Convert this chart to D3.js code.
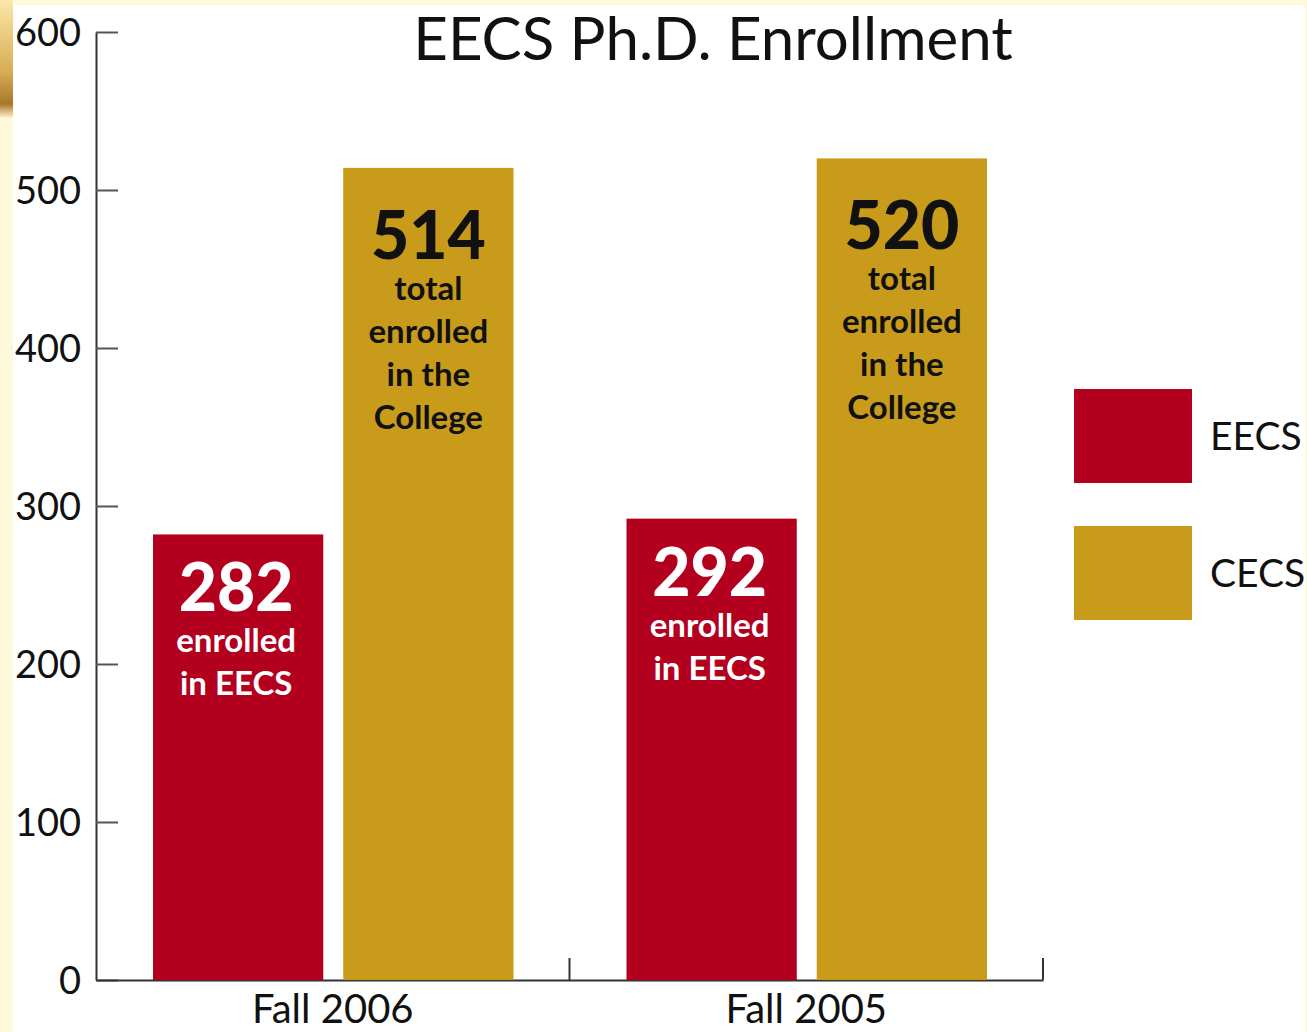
<!DOCTYPE html>
<html><head><meta charset="utf-8">
<script src="https://cdn.jsdelivr.net/npm/d3@7/dist/d3.min.js"></script>
<style>
html,body{margin:0;padding:0;background:#FFF9DC;}
svg{display:block;}
</style></head>
<body>
<svg id="chart" width="1307" height="1032"></svg>
<script>
const title = "EECS Ph.D. Enrollment";
const groups = ["Fall 2006", "Fall 2005"];
const series = ["EECS", "CECS"];
const eecsValues = [282, 292];
const cecsValues = [514, 520];
const eecsCaption = ["enrolled", "in EECS"];
const cecsCaption = ["total", "enrolled", "in the", "College"];
const yTicks = [0, 100, 200, 300, 400, 500, 600];
const colors = {EECS: "#B3001E", CECS: "#C89B1B"};

const svg = d3.select("#chart");
const FONT = "Lato, 'Open Sans', sans-serif";

// background
const defs = svg.append("defs");
const g1 = defs.append("linearGradient").attr("id","corner").attr("x1",0).attr("y1",0).attr("x2",0).attr("y2",1);
g1.append("stop").attr("offset","0%").attr("stop-color","#FBE7A8");
g1.append("stop").attr("offset","60%").attr("stop-color","#D9AE55");
g1.append("stop").attr("offset","88%").attr("stop-color","#A8772A");
g1.append("stop").attr("offset","100%").attr("stop-color","#FFF3CF");
svg.append("rect").attr("x",0).attr("y",0).attr("width",13).attr("height",118).attr("fill","url(#corner)");
svg.append("rect").attr("x",13).attr("y",5).attr("width",1292).attr("height",1027).attr("fill","#ffffff");

const y = d3.scaleLinear().domain([0, 600]).range([980, 32]);
const x0 = d3.scaleBand().domain(groups).range([96, 1043]).paddingInner(0).paddingOuter(0);
const x1 = d3.scaleBand().domain(series).range([57, x0.bandwidth() - 56]).paddingInner(0.105).paddingOuter(0);

// title
svg.append("text").attr("x", 713).attr("y", 60).attr("text-anchor","middle")
  .attr("font-family", FONT).attr("font-size", 60).attr("fill","#111").text(title);

// y axis
const yAxis = svg.append("g").attr("transform","translate(96,0)")
  .call(d3.axisLeft(y).tickValues(yTicks).tickSizeInner(-22).tickSizeOuter(0).tickPadding(15));
yAxis.select(".domain").attr("stroke","#333").attr("stroke-width",2);
yAxis.selectAll(".tick line").attr("stroke","#555").attr("stroke-width",2);
yAxis.selectAll(".tick text").attr("font-family",FONT).attr("font-size",38).attr("fill","#111").attr("dy","0.36em");

// x axis
const xAxis = svg.append("g").attr("transform","translate(0,980)")
  .call(d3.axisBottom(x0).tickSize(0).tickPadding(14));
xAxis.select(".domain").attr("stroke","#333").attr("stroke-width",2);
xAxis.selectAll(".tick text").attr("font-family",FONT).attr("font-size",40).attr("fill","#111").attr("dy","0.72em");
svg.append("g").selectAll("line").data(groups).join("line")
  .attr("x1", d => x0(d) + x0.bandwidth()).attr("x2", d => x0(d) + x0.bandwidth())
  .attr("y1", 980).attr("y2", 958).attr("stroke","#333").attr("stroke-width",2);

// bars
const rows = [];
groups.forEach((gname, i) => {
  rows.push({group: gname, key: "EECS", value: eecsValues[i], caption: eecsCaption});
  rows.push({group: gname, key: "CECS", value: cecsValues[i], caption: cecsCaption});
});
const barG = svg.append("g");
barG.selectAll("rect").data(rows).join("rect")
  .attr("x", d => x0(d.group) + x1(d.key))
  .attr("y", d => y(d.value))
  .attr("width", x1.bandwidth())
  .attr("height", d => y(0) - y(d.value))
  .attr("fill", d => colors[d.key]);

// in-bar labels
const labelOffset = {EECS: 77, CECS: 91};
const labels = svg.append("g").selectAll("g").data(rows).join("g")
  .attr("transform", d => `translate(${x0(d.group) + x1(d.key) + x1.bandwidth()/2 - (d.key === "EECS" ? 2 : 0)},${y(d.value) + labelOffset[d.key]})`);
labels.append("text").attr("text-anchor","middle").attr("font-family",FONT).attr("font-weight",900)
  .attr("font-size",66).attr("fill", d => d.key === "EECS" ? "#fff" : "#111").text(d => d.value);
labels.each(function(d){
  d3.select(this).selectAll("text.cap").data(d.caption).join("text").attr("class","cap")
    .attr("text-anchor","middle").attr("font-family",FONT).attr("font-weight",700)
    .attr("font-size",33).attr("fill", d.key === "EECS" ? "#fff" : "#111")
    .attr("y", (c, j) => 41 + j * 43).text(c => c);
});

// legend
const legend = svg.append("g").selectAll("g").data(series).join("g")
  .attr("transform", (d, i) => `translate(1074,${389 + i * 137})`);
legend.append("rect").attr("width",118).attr("height",94).attr("fill", d => colors[d]);
legend.append("text").attr("x",136).attr("y",47).attr("dy","0.36em")
  .attr("font-family",FONT).attr("font-size",39).attr("fill","#111").text(d => d);
</script>
</body></html>
